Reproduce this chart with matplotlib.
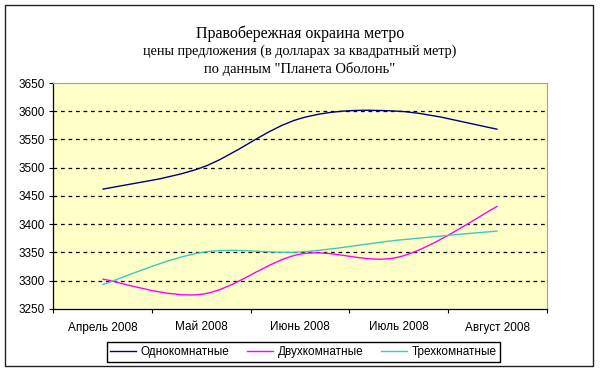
import matplotlib
matplotlib.use("Agg")
import matplotlib.pyplot as plt
from matplotlib.path import Path
from matplotlib.patches import PathPatch, Rectangle
from matplotlib.lines import Line2D

months = ["Апрель 2008", "Май 2008", "Июнь 2008", "Июль 2008", "Август 2008"]
one_room = [3462, 3500, 3587, 3600, 3568]
two_room = [3303, 3276, 3347, 3342, 3432]
three_room = [3293, 3350, 3351, 3372, 3388]
series_names = ["Однокомнатные", "Двухкомнатные", "Трехкомнатные"]
colors = ["#000080", "#FF00FF", "#3CC8C0"]
yticks = [3250, 3300, 3350, 3400, 3450, 3500, 3550, 3600, 3650]

W, H = 600, 373
fig = plt.figure(figsize=(6, 3.73), dpi=100)
fig.patch.set_facecolor("white")

# outer chart frame
fig.add_artist(Rectangle((5 / W, 1 - 366 / H), 588 / W, 361 / H, transform=fig.transFigure,
                         fill=False, edgecolor="#202020", linewidth=1.0))

ax = fig.add_axes([53 / W, 1 - 309 / H, 494 / W, 226 / H])
ax.set_facecolor("#FFFFC8")


def smooth_path(xs, ys):
    pts = list(zip(xs, ys))
    n = len(pts)
    verts = [pts[0]]
    codes = [Path.MOVETO]
    for i in range(n - 1):
        p0 = pts[i - 1] if i > 0 else pts[i]
        p1 = pts[i]
        p2 = pts[i + 1]
        p3 = pts[i + 2] if i + 2 < n else pts[i + 1]
        c1 = (p1[0] + (p2[0] - p0[0]) / 6, p1[1] + (p2[1] - p0[1]) / 6)
        c2 = (p2[0] - (p3[0] - p1[0]) / 6, p2[1] - (p3[1] - p1[1]) / 6)
        verts += [c1, c2, p2]
        codes += [Path.CURVE4] * 3
    return Path(verts, codes)


xs = list(range(len(months)))
handles = []
for vals, col, name in zip([one_room, two_room, three_room], colors, series_names):
    patch = PathPatch(smooth_path(xs, vals), facecolor="none", edgecolor=col, linewidth=1.0, zorder=3)
    ax.add_patch(patch)
    handles.append(Line2D([], [], color=col, linewidth=1.0, label=name))

ax.set_xlim(-0.5, len(months) - 0.5)
ax.set_ylim(3250, 3650)
ax.set_yticks(yticks)
ax.set_yticklabels([str(v) for v in yticks], fontsize=8.5, family="Liberation Sans")
ax.set_xticks(xs)
ax.set_xticklabels(months, fontsize=8.5, family="Liberation Sans")
ax.tick_params(axis="x", length=0, pad=9)
ax.set_xticks([i - 0.5 for i in range(len(months) + 1)], minor=True)
ax.tick_params(axis="x", which="minor", length=3, direction="out", width=0.8)
ax.tick_params(axis="y", length=3, direction="out", width=0.8, pad=3)

for v in yticks[1:-1]:
    ax.axhline(v, color="black", linestyle=(0, (3, 3)), linewidth=0.9, zorder=1)

for s in ["top", "right"]:
    ax.spines[s].set_color("#A0A0A0")
    ax.spines[s].set_linewidth(0.8)
for s in ["left", "bottom"]:
    ax.spines[s].set_color("black")
    ax.spines[s].set_linewidth(0.9)

fig.text(0.5, 1 - 34 / H, "Правобережная окраина метро", ha="center", va="center",
         fontsize=11.5, family="Liberation Serif")
fig.text(0.5, 1 - 51 / H, "цены предложения (в долларах за квадратный метр)", ha="center", va="center",
         fontsize=10.2, family="Liberation Serif")
fig.text(0.5, 1 - 68.5 / H, "по данным \"Планета Оболонь\"", ha="center", va="center",
         fontsize=10.5, family="Liberation Serif")

leg = fig.legend(handles=handles, loc="center", bbox_to_anchor=(303.5 / W, 1 - 352 / H), ncol=3,
                 frameon=True, fancybox=False, edgecolor="black", framealpha=1,
                 prop={"family": "Liberation Sans", "size": 8.5}, handlelength=2.2,
                 handletextpad=0.4, columnspacing=1.5, borderpad=0.3)
leg.get_frame().set_linewidth(1.0)

fig.savefig("out.png", dpi=100)
